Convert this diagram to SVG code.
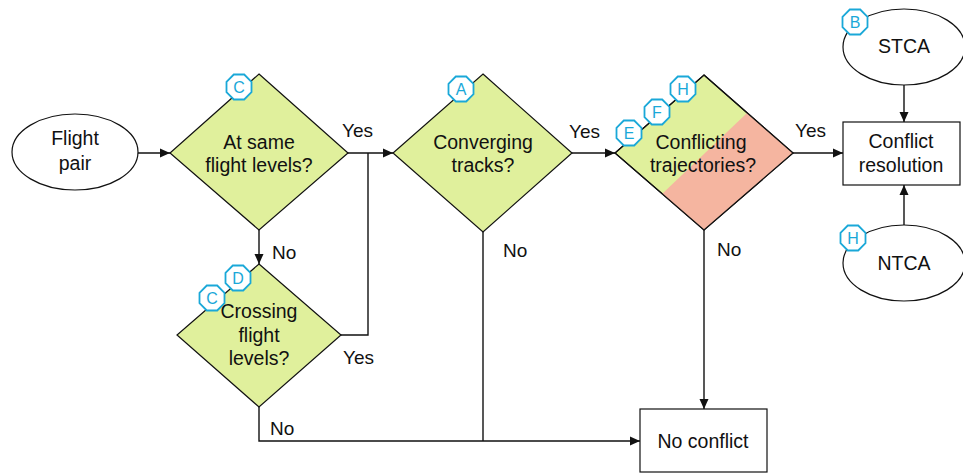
<svg xmlns="http://www.w3.org/2000/svg" width="963" height="474" viewBox="0 0 963 474">
<style>
.t{font-family:"Liberation Sans",Arial,sans-serif;font-size:19.5px;fill:#111;text-anchor:middle}
.l{font-family:"Liberation Sans",Arial,sans-serif;font-size:19px;fill:#111}
.d{fill:#e0f09c;stroke:#111;stroke-width:1.2}
.s{fill:#fff;stroke:#111;stroke-width:1.2}
.c{fill:none;stroke:#111;stroke-width:1.4}
.b{fill:#fff;stroke:#1aa8d8;stroke-width:1.8}
.bt{font-family:"Liberation Sans",Arial,sans-serif;font-size:16px;fill:#1aa8d8;text-anchor:middle}
</style>
<defs>
<marker id="ar" markerWidth="10" markerHeight="10" refX="10" refY="5" orient="auto" markerUnits="userSpaceOnUse">
<path d="M0,0.5 L10,5 L0,9.5 Z" fill="#111"/>
</marker>
<polygon id="oct" points="12.5,5.2 5.2,12.5 -5.2,12.5 -12.5,5.2 -12.5,-5.2 -5.2,-12.5 5.2,-12.5 12.5,-5.2"/>
</defs>

<g id="connectors">
<path class="c" d="M137,153 H170" marker-end="url(#ar)"/>
<path class="c" d="M348,153 H393" marker-end="url(#ar)"/>
<path class="c" d="M259,230 V264" marker-end="url(#ar)"/>
<path class="c" d="M341,335 H368 V153"/>
<path class="c" d="M572,153 H615" marker-end="url(#ar)"/>
<path class="c" d="M793,153 H843" marker-end="url(#ar)"/>
<path class="c" d="M704,230 V409" marker-end="url(#ar)"/>
<path class="c" d="M259,407 V441 H640" marker-end="url(#ar)"/>
<path class="c" d="M483,232 V441"/>
<path class="c" d="M904,85 V122" marker-end="url(#ar)"/>
<path class="c" d="M904,225 V185" marker-end="url(#ar)"/>
<text class="l" x="342" y="137">Yes</text>
<text class="l" x="272" y="259">No</text>
<text class="l" x="343" y="364">Yes</text>
<text class="l" x="270" y="435">No</text>
<text class="l" x="503" y="257">No</text>
<text class="l" x="569" y="138">Yes</text>
<text class="l" x="795" y="137">Yes</text>
<text class="l" x="717" y="256">No</text>
</g>

<g id="flight-pair">
<ellipse class="s" cx="75" cy="152" rx="63" ry="38"/>
<text class="t" x="75" y="145">Flight</text>
<text class="t" x="75" y="170">pair</text>
</g>

<g id="same-levels">
<polygon class="d" points="259,74 348,153 259,230 170,153"/>
<text class="t" x="259" y="149">At same</text>
<text class="t" x="259" y="172">flight levels?</text>
<use href="#oct" class="b" x="239" y="87"/>
<text class="bt" x="239" y="92.5">C</text>
</g>

<g id="crossing-levels">
<polygon class="d" points="259,264 341,335 259,407 177,335"/>
<text class="t" x="259" y="318">Crossing</text>
<text class="t" x="259" y="342">flight</text>
<text class="t" x="259" y="365">levels?</text>
<use href="#oct" class="b" x="238" y="278"/>
<text class="bt" x="238" y="283.5">D</text>
<use href="#oct" class="b" x="212" y="298"/>
<text class="bt" x="212" y="303.5">C</text>
</g>

<g id="converging">
<polygon class="d" points="483,74 572,153 483,232 393,153"/>
<text class="t" x="483" y="149">Converging</text>
<text class="t" x="483" y="172">tracks?</text>
<use href="#oct" class="b" x="461" y="89"/>
<text class="bt" x="461" y="94.5">A</text>
</g>

<g id="conflicting">
<polygon class="d" points="704,75 793,153 704,230 615,153"/>
<polygon points="747,113 793,153 704,230 662,194" fill="#f5b5a0"/>
<polygon points="704,75 793,153 704,230 615,153" fill="none" stroke="#111" stroke-width="1.2"/>
<text class="t" x="701" y="149">Conflicting</text>
<text class="t" x="703" y="172">trajectories?</text>
<use href="#oct" class="b" x="629" y="133"/>
<text class="bt" x="629" y="138.5">E</text>
<use href="#oct" class="b" x="657" y="112"/>
<text class="bt" x="657" y="117.5">F</text>
<use href="#oct" class="b" x="683" y="89"/>
<text class="bt" x="683" y="94.5">H</text>
</g>

<g id="stca">
<ellipse class="s" cx="904" cy="47" rx="61" ry="38"/>
<text class="t" x="904" y="53">STCA</text>
<use href="#oct" class="b" x="855" y="22"/>
<text class="bt" x="855" y="27.5">B</text>
</g>

<g id="conflict-resolution">
<rect class="s" x="843" y="122" width="117" height="63"/>
<text class="t" x="901" y="148">Conflict</text>
<text class="t" x="901" y="172">resolution</text>
</g>

<g id="ntca">
<ellipse class="s" cx="904" cy="263" rx="61" ry="38"/>
<text class="t" x="904" y="270">NTCA</text>
<use href="#oct" class="b" x="853" y="238"/>
<text class="bt" x="853" y="243.5">H</text>
</g>

<g id="no-conflict">
<rect class="s" x="640" y="409" width="127" height="63"/>
<text class="t" x="703" y="448">No conflict</text>
</g>
</svg>
